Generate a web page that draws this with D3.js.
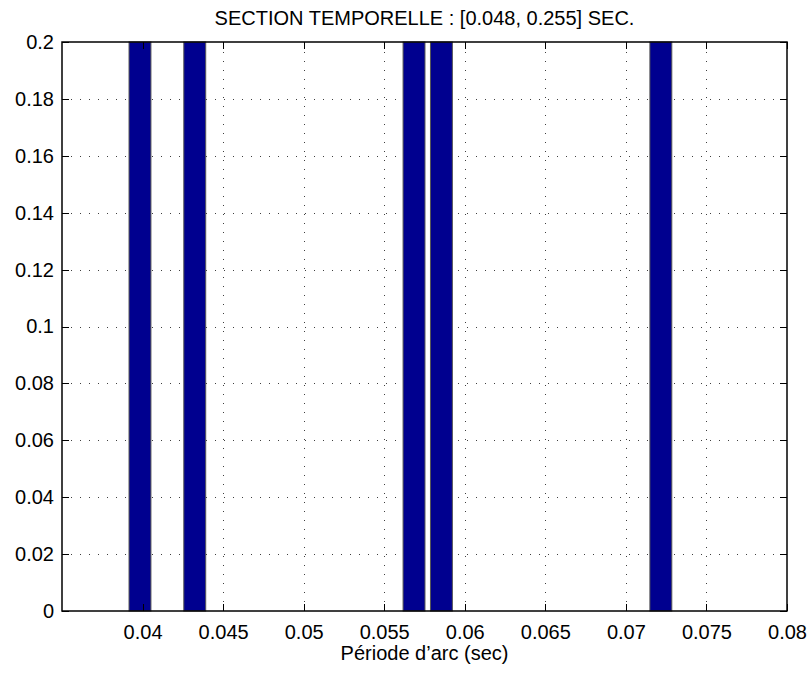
<!DOCTYPE html>
<html>
<head>
<meta charset="utf-8">
<script src="https://cdn.jsdelivr.net/npm/d3@7"></script>
<style>
  html, body { margin: 0; padding: 0; background: #fff; }
  svg { display: block; }
  text { font-family: "Liberation Sans", Arial, Helvetica, sans-serif; fill: #000; }
</style>
</head>
<body>
<svg id="chart" width="811" height="673"></svg>
<script>
// ---- data ----
const binCenters = [0.03984, 0.04324, 0.05685, 0.05855, 0.07217];
const binValues  = [0.2, 0.2, 0.2, 0.2, 0.2];
const binWidth = 0.0017;
const xTicks = [0.04, 0.045, 0.05, 0.055, 0.06, 0.065, 0.07, 0.075, 0.08];
const yTicks = [0, 0.02, 0.04, 0.06, 0.08, 0.1, 0.12, 0.14, 0.16, 0.18, 0.2];
const titleText = "SECTION TEMPORELLE : [0.048, 0.255] SEC.";
const xLabelText = "Période d\u2019arc (sec)";

// ---- layout ----
const L = 62, R = 787, T = 42, B = 611;
const svg = d3.select("#chart");
const x = d3.scaleLinear().domain([0.035, 0.08]).range([L, R]);
const y = d3.scaleLinear().domain([0, 0.2]).range([B, T]);
const fs = 20;

// grid
const grid = svg.append("g").attr("stroke", "#000").attr("stroke-width", 1)
  .attr("stroke-dasharray", "1,8").attr("opacity", 0.75);
grid.selectAll(".vg").data(xTicks.filter(d => d > 0.035 && d < 0.08)).join("line")
  .attr("x1", d => Math.round(x(d)) + 0.5).attr("x2", d => Math.round(x(d)) + 0.5)
  .attr("y1", B).attr("y2", T);
grid.selectAll(".hg").data(yTicks.filter(d => d > 0 && d < 0.2)).join("line")
  .attr("y1", d => Math.round(y(d)) + 0.5).attr("y2", d => Math.round(y(d)) + 0.5)
  .attr("x1", L).attr("x2", R);

// bars
svg.append("g").selectAll("rect").data(binCenters).join("rect")
  .attr("x", (d) => x(d - binWidth * 0.4))
  .attr("width", (d) => x(d + binWidth * 0.4) - x(d - binWidth * 0.4))
  .attr("y", (d, i) => y(binValues[i]))
  .attr("height", (d, i) => y(0) - y(binValues[i]))
  .attr("fill", "#00008F")
  .attr("stroke", "#555")
  .attr("stroke-width", 1);

// axes (MATLAB style, ticks inside on all four sides)
const tl = 7;
const xAxisB = d3.axisBottom(x).tickValues(xTicks).tickSize(0).tickPadding(14)
  .tickFormat(d => String(+d.toFixed(3)));
const gxb = svg.append("g").attr("transform", `translate(0,${B})`).call(xAxisB);
gxb.select(".domain").remove();
gxb.selectAll("text").attr("font-size", fs).attr("font-family", "Liberation Sans, Arial, sans-serif");

const yAxisL = d3.axisLeft(y).tickValues(yTicks).tickSize(0).tickPadding(8)
  .tickFormat(d => String(+d.toFixed(2)));
const gyl = svg.append("g").attr("transform", `translate(${L},0)`).call(yAxisL);
gyl.select(".domain").remove();
gyl.selectAll("text").attr("font-size", fs).attr("font-family", "Liberation Sans, Arial, sans-serif");

// tick marks
const tk = svg.append("g").attr("stroke", "#000").attr("stroke-width", 1);
xTicks.forEach(d => {
  const px = Math.round(x(d)) + 0.5;
  tk.append("line").attr("x1", px).attr("x2", px).attr("y1", B).attr("y2", B - tl);
  tk.append("line").attr("x1", px).attr("x2", px).attr("y1", T).attr("y2", T + tl);
});
yTicks.forEach(d => {
  const py = Math.round(y(d)) + 0.5;
  tk.append("line").attr("y1", py).attr("y2", py).attr("x1", L).attr("x2", L + tl);
  tk.append("line").attr("y1", py).attr("y2", py).attr("x1", R).attr("x2", R - tl);
});

// box
svg.append("rect").attr("x", L).attr("y", T).attr("width", R - L).attr("height", B - T)
  .attr("fill", "none").attr("stroke", "#000").attr("stroke-width", 1.5);

// title & label
svg.append("text").attr("x", (L + R) / 2).attr("y", 25).attr("text-anchor", "middle")
  .attr("font-size", fs).text(titleText);
svg.append("text").attr("x", (L + R) / 2).attr("y", 660).attr("text-anchor", "middle")
  .attr("font-size", fs).text(xLabelText);
</script>
</body>
</html>
